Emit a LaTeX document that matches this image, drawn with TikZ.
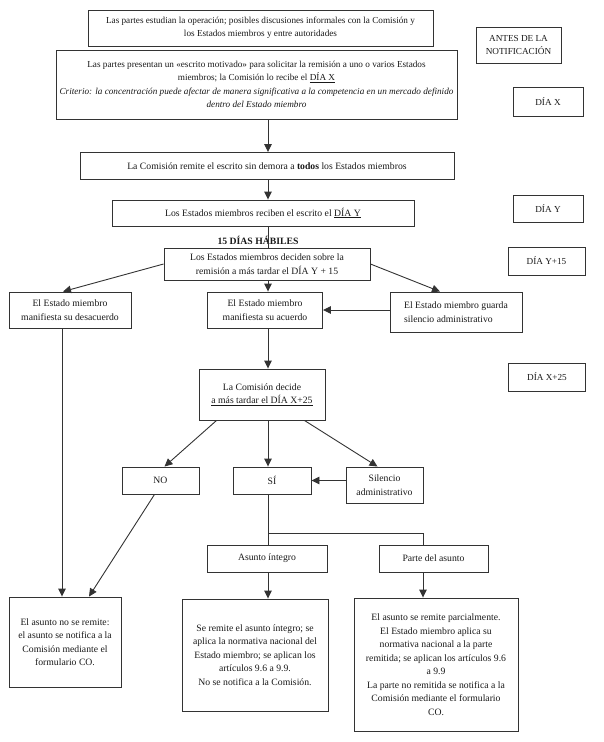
\documentclass[tikz,border=0pt]{standalone}
\usepackage{fontspec}
\setmainfont{Liberation Serif}
\usetikzlibrary{arrows.meta}

\begin{document}
\begin{tikzpicture}[x=1pt, y=-1pt,
  box/.style={draw=black!80, line width=0.9pt, align=center, inner sep=2pt, text=black!90, font=\fontsize{9.7}{13.5}\selectfont},
  smallbox/.style={box, font=\fontsize{9.2}{13.5}\selectfont},
  link/.style={draw=black!80, line width=0.9pt},
  arr/.style={link, -{Triangle[length=8pt, width=7.5pt]}}]
\useasboundingbox (0,0) rectangle (604,742);
\coordinate (ax) at (268,0);
% fechas a la derecha
\node[smallbox, minimum width=85pt, minimum height=36pt] (ante) at (518.5,45) {ANTES DE LA\\NOTIFICACIÓN};
\node[smallbox, minimum width=70pt, minimum height=29pt] (dx) at (548,101.5) {DÍA X};
\node[smallbox, minimum width=70pt, minimum height=27pt] (dy) at (548,208.5) {DÍA Y};
\node[smallbox, minimum width=77pt, minimum height=28pt] (dy15) at (546.5,261) {DÍA Y+15};
\node[smallbox, minimum width=77pt, minimum height=28pt] (dx25) at (547,377) {DÍA X+25};
% columna principal
\node[smallbox, minimum width=345pt, minimum height=36pt] (b1) at (260.5,28) {Las partes estudian la operación; posibles discusiones informales con la Comisión y\\los Estados miembros y entre autoridades};
\node[smallbox, minimum width=401pt, minimum height=69pt] (b2) at (256.5,84.5) {Las partes presentan un «escrito motivado» para solicitar la remisión a uno o varios Estados\\miembros; la Comisión lo recibe el \underline{DÍA X}\\\textit{Criterio: la concentración puede afectar de manera significativa a la competencia en un mercado definido}\\\textit{dentro del Estado miembro}};
\node[box, minimum width=374pt, minimum height=27pt] (b3) at (267,166) {La Comisión remite el escrito sin demora a \textbf{todos} los Estados miembros};
\node[box, minimum width=302pt, minimum height=26pt] (b4) at (263,213) {Los Estados miembros reciben el escrito el \underline{DÍA Y}};
\node[font=\fontsize{9.7}{13.5}\selectfont\bfseries, text=black!90] (dias) at (258,240) {15 DÍAS HÁBILES};
\node[box, minimum width=206pt, minimum height=32pt] (b5) at (267,264) {Los Estados miembros deciden sobre la\\remisión a más tardar el DÍA Y + 15};
\node[box, minimum width=122pt, minimum height=36pt] (b6) at (70,310) {El Estado miembro\\manifiesta su desacuerdo};
\node[box, minimum width=115pt, minimum height=36pt] (b7) at (265,310) {El Estado miembro\\manifiesta su acuerdo};
\node[box, align=left, minimum width=132pt, minimum height=40pt] (b8) at (456,312) {El Estado miembro guarda\\silencio administrativo};
\node[box, minimum width=126pt, minimum height=51pt] (b9) at (262,394.5) {La Comisión decide\\\underline{a más tardar el DÍA X+25}};
\node[box, minimum width=77pt, minimum height=27pt] (no) at (160.5,480.5) {NO};
\node[box, minimum width=78pt, minimum height=27pt] (si) at (272,480.5) {SÍ};
\node[box, minimum width=77pt, minimum height=36pt] (sil) at (384.5,485) {Silencio\\administrativo};
\node[box, minimum width=120pt, minimum height=27pt] (ai) at (267,558.5) {Asunto íntegro};
\node[box, minimum width=109pt, minimum height=27pt] (pa) at (433.5,558.5) {Parte del asunto};
% resultados
\node[box, minimum width=112pt, minimum height=90pt] (nr) at (65,642) {El asunto no se remite:\\el asunto se notifica a la\\Comisión mediante el\\formulario CO.};
\node[box, minimum width=146pt, minimum height=112pt] (sr) at (255,655) {Se remite el asunto íntegro; se\\aplica la normativa nacional del\\Estado miembro; se aplican los\\artículos 9.6 a 9.9.\\No se notifica a la Comisión.};
\node[box, minimum width=164pt, minimum height=133pt] (pr) at (436,664.5) {El asunto se remite parcialmente.\\El Estado miembro aplica su\\normativa nacional a la parte\\remitida; se aplican los artículos 9.6\\a 9.9\\La parte no remitida se notifica a la\\Comisión mediante el formulario\\CO.};
% conectores
\draw[arr] (b2.south -| ax) -- (b3.north -| ax);
\draw[arr] (b3.south -| ax) -- (b4.north -| ax);
\draw[link] (b4.south -| ax) -- (b5.north -| ax);
\draw[arr] (b5.west) -- ([xshift=-7pt]b6.north);
\draw[arr] (b5.south -| ax) -- (b7.north -| ax);
\draw[arr] (b5.east) -- ([xshift=-16pt]b8.north);
\draw[arr] (b8.west |- b7.east) -- (b7.east);
\draw[arr] (b7.south -| ax) -- (b9.north -| ax);
\draw[arr] ([xshift=18pt]b9.south west) -- ([xshift=4pt]no.north);
\draw[arr] (b9.south -| ax) -- (si.north -| ax);
\draw[arr] ([xshift=-21pt]b9.south east) -- ([xshift=-7pt]sil.north);
\draw[arr] (sil.west |- si.east) -- (si.east);
\coordinate (split) at (268,533);
\draw[link] (si.south -| ax) -- (ai.north -| ax);
\draw[link] (split) -| ([xshift=-10.5pt]pa.north);
\draw[arr] (ai.south -| ax) -- (sr.north -| ax);
\draw[arr] ([xshift=-10.5pt]pa.south) -- ([xshift=-10.5pt]pa.south |- pr.north);
\draw[arr] ([xshift=-8pt]b6.south) -- ([xshift=-8pt]b6.south |- nr.north);
\draw[arr] ([xshift=-6pt]no.south) -- ([xshift=24pt]nr.north);
\end{tikzpicture}
\end{document}
